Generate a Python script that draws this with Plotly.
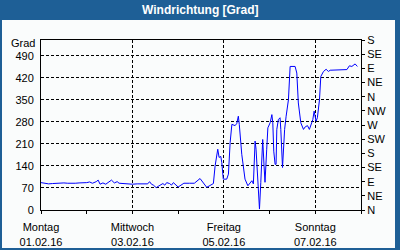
import plotly.graph_objects as go

# ---- data ----
hours = [0, 2, 4, 6, 8, 10, 12, 14, 16, 18, 20, 22, 24, 25.5, 27, 29, 30, 31, 32.5, 34,
         36, 37, 38.5, 40, 41, 43, 45.5, 48, 50.5, 53, 56, 57, 58, 59, 60.5, 61.5, 62.5, 64,
         65, 66, 67.5, 68.5, 69.5, 71, 72, 73.5, 75, 78, 80.5,
         83.5, 85.1, 87, 88.2, 89.6, 90.5, 91.4, 92.8, 93.5, 94.4, 94.9, 95.7, 97.5, 98.4,
         99.3, 100.2, 101.9, 102.8, 103.6, 104.1, 105.4, 107.1, 108.6, 109.8, 110.7, 111.5,
         112.4, 112.9, 113.8, 114.7, 115.4, 115.9, 116.4, 117.1, 117.6, 118.5, 119.1, 120.3,
         121.2, 121.7, 122.2, 122.9, 123.4, 123.8, 124.6, 125.5, 125.9, 126.8, 127.3, 127.9,
         128.7, 129.9, 130.8, 133.4, 134.3, 135.1, 136.4, 137.8, 138.7, 139.9, 140.9, 141.8,
         142.7, 143.4, 143.9, 144.4, 145.1, 146.2, 146.9, 148.3, 149.7, 150.9, 151.8, 156.1,
         160.6, 161.9, 163.2, 164.9, 166.1]
degrees = [87, 84, 83, 84, 85, 84, 86, 85, 84, 85, 86, 86, 87, 89, 85, 90, 95, 82, 86, 82,
           92, 95, 86, 90, 85, 84, 83, 82, 83, 83, 83, 90, 82, 79, 71, 75, 79, 84,
           79, 87, 84, 79, 87, 77, 73, 79, 85, 85, 85,
           100, 88, 72, 76, 82, 84, 140, 193, 167, 170, 151, 98, 98, 114,
           214, 272, 268, 275, 298, 272, 177, 98, 77, 88, 93, 83,
           219, 193, 88, 3, 88, 167, 224, 140, 88, 193, 261, 277,
           303, 277, 187, 145, 145, 256, 287, 293, 256, 135, 214, 256,
           298, 350, 456, 456, 435, 340, 277, 256, 264, 268, 256, 272,
           287, 314, 298, 282, 293, 350, 424, 440, 447, 440, 444, 446,
           446, 458, 456, 464, 456]

day_labels = ["Montag", "Mittwoch", "Freitag", "Sonntag"]
date_labels = ["01.02.16", "03.02.16", "05.02.16", "07.02.16"]
label_hours = [0, 48, 96, 144]
minor_hours = [24, 72, 120, 168]
left_ticks = [0, 70, 140, 210, 280, 350, 420, 490]
compass_vals = [0, 45, 90, 135, 180, 225, 270, 315, 360, 405, 450, 495, 540]
compass_text = ["N", "NE", "E", "SE", "S", "SW", "W", "NW", "N", "NE", "E", "SE", "S"]

title_text = "Windrichtung [Grad]"
unit_text = "Grad"

BLUE = "#1e5f96"
PANEL = "#fafcfc"
FONT = "Liberation Sans"

L, R, T, B = 41, 39, 40, 40
W, H = 400, 250
PW, PH = W - L - R, H - T - B


def px(x):
    return (x - L) / PW


def py(y):
    return (H - B - y) / PH


fig = go.Figure()
fig.add_trace(go.Scatter(x=hours, y=degrees, mode="lines",
                         line=dict(color="#0000ff", width=1), hoverinfo="skip",
                         showlegend=False))
fig.add_trace(go.Scatter(x=hours, y=degrees, mode="lines", yaxis="y2",
                         line=dict(color="rgba(0,0,0,0)", width=0), hoverinfo="skip",
                         showlegend=False))

fig.update_layout(
    width=W, height=H,
    margin=dict(l=L, r=R, t=T, b=B, pad=0, autoexpand=False),
    paper_bgcolor=BLUE,
    plot_bgcolor="rgba(0,0,0,0)",
    font=dict(family=FONT, size=11, color="black"),
    showlegend=False,
    xaxis=dict(
        range=[0, 168], tickmode="array", tickvals=label_hours,
        ticktext=[f"{d}<br>{t}" for d, t in zip(day_labels, date_labels)],
        ticks="outside", ticklen=3, tickcolor="black",
        showgrid=True, gridcolor="black", gridwidth=1, griddash="3px,2px",
        showline=True, linecolor="black", linewidth=1, mirror=True,
        zeroline=False, fixedrange=True, ticklabelstandoff=4, automargin=False,
        minor=dict(tickmode="array", tickvals=minor_hours, ticks="outside",
                   ticklen=3, tickcolor="black", showgrid=False),
    ),
    yaxis=dict(
        range=[0, 540], tickmode="array", tickvals=left_ticks,
        ticks="", showgrid=True, gridcolor="black", gridwidth=1, griddash="3px,2px",
        showline=True, linecolor="black", linewidth=1, automargin=False,
        zeroline=False, fixedrange=True, ticklabelstandoff=4,
    ),
    yaxis2=dict(
        range=[0, 540], tickmode="array", tickvals=compass_vals, ticktext=compass_text,
        overlaying="y", side="right", anchor="x", automargin=False,
        ticks="outside", ticklen=3, tickcolor="black",
        showgrid=False, showline=True, linecolor="black", linewidth=1,
        zeroline=False, fixedrange=True,
    ),
    shapes=[
        dict(type="rect", xref="paper", yref="paper", layer="below",
             x0=px(2), x1=px(395), y0=py(248), y1=py(20),
             fillcolor=PANEL, line=dict(width=0)),
    ],
    annotations=[
        dict(text=f"<b>{title_text}</b>", xref="paper", yref="paper",
             x=px(200), y=py(10), xanchor="center", yanchor="middle",
             showarrow=False, font=dict(family=FONT, size=12, color="white")),
        dict(text=unit_text, xref="paper", yref="paper",
             x=px(36), y=py(43), xanchor="right", yanchor="middle",
             showarrow=False, borderpad=0,
             font=dict(family=FONT, size=11, color="black")),
    ],
)

fig.write_html("out.html", config={"displayModeBar": False})
